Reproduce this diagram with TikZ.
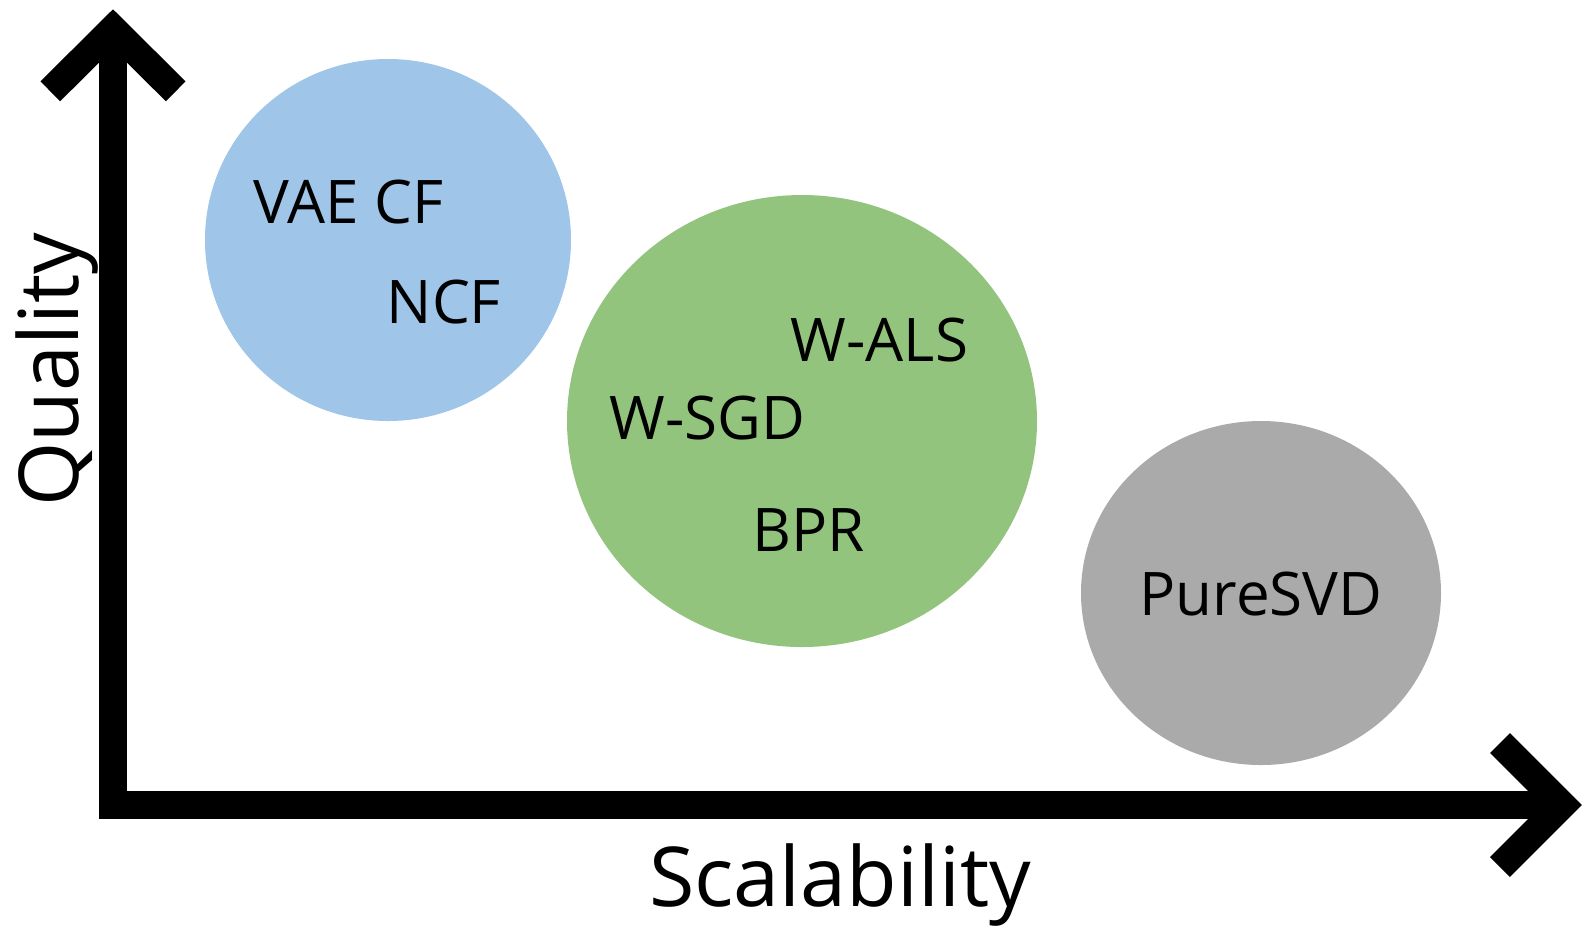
\documentclass[tikz,border=0pt]{standalone}
\usepackage{fontspec}
\setmainfont{Open Sans}
\usetikzlibrary{shapes.geometric}
\definecolor{blobblue}{HTML}{9FC5E8}
\definecolor{blobgreen}{HTML}{93C47D}
\definecolor{blobgray}{HTML}{AAAAAA}
\begin{document}
\begin{tikzpicture}[x=0.01cm,y=-0.01cm,
  blob/.style={ellipse,inner sep=0pt,draw=none},
  axisline/.style={line width=0.28cm,line join=miter,line cap=butt},
  lbl/.style={inner sep=0pt,anchor=base west,font=\fontsize{17.1pt}{20pt}\selectfont},
  axislabel/.style={inner sep=0pt,anchor=base,font=\fontsize{23.5pt}{28pt}\selectfont}]
\useasboundingbox (0,0) rectangle (1588,929);

% groups of methods
\node[blob,fill=blobblue,minimum width=366*0.01cm,minimum height=362*0.01cm] (quality) at (388,240) {};
\node[blob,fill=blobgreen,minimum width=470*0.01cm,minimum height=452*0.01cm] (middle) at (802,421) {};
\node[blob,fill=blobgray,minimum width=360*0.01cm,minimum height=344*0.01cm] (fast) at (1261,593) {};

% method names
\node[lbl] (vae) at (253,223) {VAE CF};
\node[lbl] (ncf) at (386,323) {NCF};
\node[lbl] (wals) at (790,361) {W-ALS};
\node[lbl] (wsgd) at (609,439) {W-SGD};
\node[lbl] (bpr) at (752,551) {BPR};
\node[lbl] (svd) at (1139,615) {PureSVD};

% axes
\coordinate (origin) at (113,805);
\coordinate (ytop) at (113,40);
\coordinate (xend) at (1550,805);
\coordinate (ytip) at (113,29);
\coordinate (xtip) at (1562,805);
\draw[axisline] (ytop) -- (origin) -- (xend);
\draw[axisline] ([shift={(-62.7,62.3)}]ytip) -- (ytip) -- ([shift={(62.7,62.3)}]ytip);
\draw[axisline] ([shift={(-62,-62)}]xtip) -- (xtip) -- ([shift={(-62,62)}]xtip);

% axis titles
\node[axislabel] (xlabel) at (840,906) {Scalability};
\node[axislabel,rotate=90] (ylabel) at (78,370) {Quality};
\end{tikzpicture}
\end{document}
